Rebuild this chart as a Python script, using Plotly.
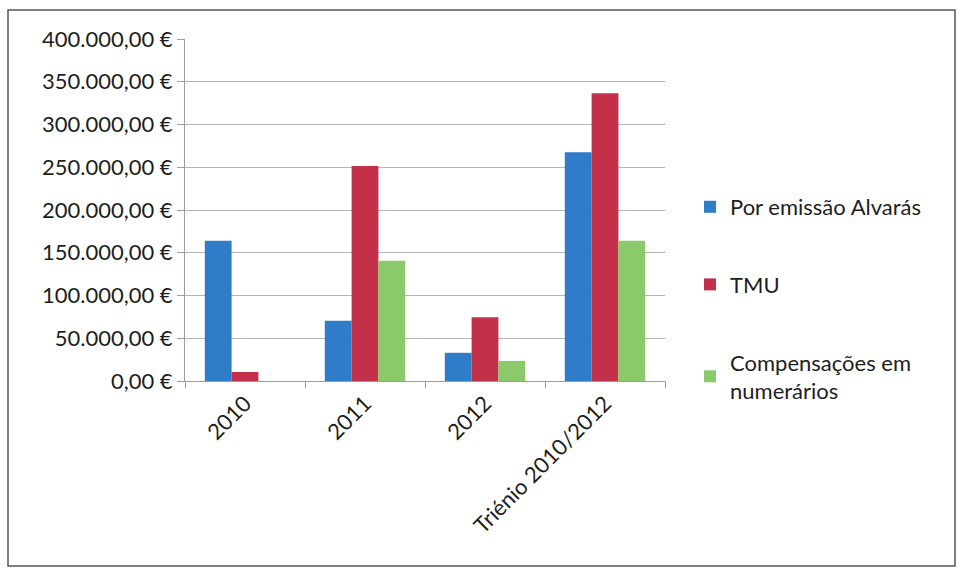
import plotly.graph_objects as go

categories = ["2010", "2011", "2012", "Triénio 2010/2012"]
alvaras = [164000, 70500, 33000, 267500]
tmu = [10500, 251500, 74500, 336500]
compensacoes = [0, 140500, 23500, 164000]
series_names = ["Por emissão Alvarás", "TMU", "Compensações em<br>numerários"]

colors = ["#2f7cc9", "#c3304a", "#8cc96a"]
FONT = "Lato"
FS = 22

fig = go.Figure()
for i, (name, vals) in enumerate(zip(series_names, [alvaras, tmu, compensacoes])):
    fig.add_trace(go.Bar(x=categories, y=vals, name=name, marker_color=colors[i],
                         marker_line_width=0, legendgroup=str(i)))

L, R, T, B = 185, 665, 39, 381
W, H = 960, 576
def px2paper_x(px):
    return (px - L) / (R - L)
def px2paper_y(py):
    return (B - py) / (B - T)

fig.update_layout(
    width=W, height=H,
    margin=dict(l=L, r=W - R, t=T, b=H - B),
    paper_bgcolor="white", plot_bgcolor="white",
    barmode="group", bargap=0.33, bargroupgap=0,
    separators=",.",
    font=dict(family=FONT, size=FS, color="#1e1e1e"),
    legend=dict(x=px2paper_x(690), y=px2paper_y(186), xanchor="left", yanchor="top",
                font=dict(size=FS, family=FONT, color="#1e1e1e"),
                tracegroupgap=46, itemwidth=30, bgcolor="rgba(0,0,0,0)"),
    showlegend=True,
    shapes=[dict(type="rect", xref="paper", yref="paper",
                 x0=px2paper_x(8), x1=px2paper_x(955),
                 y0=px2paper_y(566), y1=px2paper_y(10),
                 line=dict(color="#555555", width=1.5))],
)
fig.update_yaxes(range=[0, 400000], dtick=50000, tickformat=",.2f", ticksuffix=" €",
                 showgrid=True, gridcolor="#b4b4bc", gridwidth=1,
                 showline=True, linecolor="#9a9aa8", linewidth=1,
                 ticks="outside", ticklen=7, tickcolor="#9a9aa8",
                 zeroline=False, tickfont=dict(size=FS, family=FONT, color="#1e1e1e"))
fig.update_xaxes(tickangle=-45, showline=True, linecolor="#9a9aa8", linewidth=1,
                 ticks="outside", tickson="boundaries", ticklen=6, tickcolor="#9a9aa8",
                 tickfont=dict(size=FS, family=FONT, color="#1e1e1e"))

fig.write_html("out.html")
